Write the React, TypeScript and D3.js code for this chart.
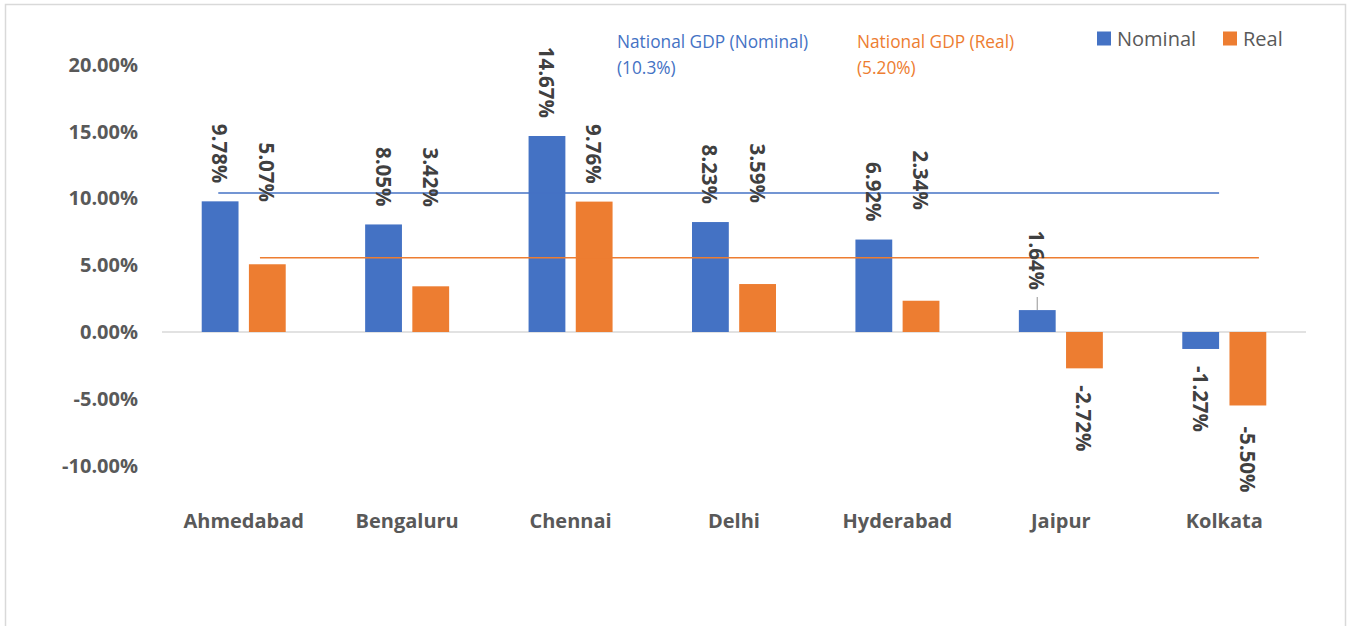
import React, { useEffect, useRef } from 'react';
import * as d3 from 'd3';

// city-level GDP growth vs national figures
const cities = ['Ahmedabad', 'Bengaluru', 'Chennai', 'Delhi', 'Hyderabad', 'Jaipur', 'Kolkata'];
const seriesNames = ['Nominal', 'Real'];
const nominal = [9.78, 8.05, 14.67, 8.23, 6.92, 1.64, -1.27];
const real = [5.07, 3.42, 9.76, 3.59, 2.34, -2.72, -5.5];
const yTicks = [-10, -5, 0, 5, 10, 15, 20];

// national reference lines (label text + level)
const nationalLabels = [
  ['National GDP (Nominal)', '(10.3%)'],
  ['National GDP (Real)', '(5.20%)'],
];
const nationalLevels = [10.4, 5.55];

// real-series labels that were dragged up in the original (value where label ends), null = default
const realLabelEnds = [9.73, 9.36, null, 9.66, 9.13, null, null];
const leaderCities = ['Jaipur'];

const W = 1351;
const H = 626;
const BLUE = '#4472C4';
const ORANGE = '#ED7D31';
const AXIS_TEXT = '#595959';
const LABEL_TEXT = '#404040';
const FONT = '"Open Sans", sans-serif';

const pct = (v: number) => v.toFixed(2) + '%';

const App = () => {
  const ref = useRef(null);

  useEffect(() => {
    const svg = d3.select(ref.current);
    svg.selectAll('*').remove();

    const colors = d3.scaleOrdinal<string, string>().domain(seriesNames).range([BLUE, ORANGE]);
    const values = [nominal, real];

    const x = d3.scaleBand().domain(cities).range([162, 1306]).paddingInner(0.486).paddingOuter(0.243);
    const x1 = d3.scaleBand().domain(seriesNames).range([0, x.bandwidth()]).paddingInner(0.22);
    const y = d3.scaleLinear().domain([-10, 20]).range([465.6, 64.8]);

    svg.append('rect')
      .attr('x', 5.5).attr('y', 4.5)
      .attr('width', 1340).attr('height', 700)
      .attr('fill', '#fff').attr('stroke', '#d9d9d9').attr('stroke-width', 1.5);

    // y axis labels
    svg.append('g')
      .selectAll('text')
      .data(yTicks)
      .enter()
      .append('text')
      .attr('x', 138)
      .attr('y', (d) => y(d))
      .attr('dy', '0.35em')
      .attr('text-anchor', 'end')
      .attr('font-family', FONT)
      .attr('font-weight', 700)
      .attr('font-size', 20)
      .attr('fill', AXIS_TEXT)
      .text((d) => pct(d));

    // zero line
    svg.append('line')
      .attr('x1', x.range()[0]).attr('x2', x.range()[1])
      .attr('y1', y(0)).attr('y2', y(0))
      .attr('stroke', '#d9d9d9').attr('stroke-width', 1.5);

    // bars
    seriesNames.forEach((s, si) => {
      svg.append('g')
        .selectAll('rect')
        .data(cities)
        .enter()
        .append('rect')
        .attr('x', (c) => x(c) + x1(s))
        .attr('width', x1.bandwidth())
        .attr('y', (c, i) => y(Math.max(0, values[si][i])))
        .attr('height', (c, i) => Math.abs(y(values[si][i]) - y(0)))
        .attr('fill', colors(s));
    });

    // national GDP lines
    const lineSpan = [
      [x(cities[0]) + x1('Nominal') + x1.bandwidth() * 0.45, x(cities[6]) + x1('Nominal') + x1.bandwidth()],
      [x(cities[0]) + x1('Real') + x1.bandwidth() * 0.3, x(cities[6]) + x1('Real') + x1.bandwidth() * 0.8],
    ];
    seriesNames.forEach((s, si) => {
      svg.append('line')
        .attr('x1', lineSpan[si][0]).attr('x2', lineSpan[si][1])
        .attr('y1', y(nationalLevels[si])).attr('y2', y(nationalLevels[si]))
        .attr('stroke', colors(s)).attr('stroke-width', 1.5);
    });

    // data labels, rotated
    seriesNames.forEach((s, si) => {
      cities.forEach((c, i) => {
        const v = values[si][i];
        const cx = x(c) + x1(s) + x1.bandwidth() / 2;
        const leader = si === 0 && leaderCities.includes(c);
        let yy;
        let anchor;
        if (v >= 0) {
          const manual = si === 1 ? realLabelEnds[i] : null;
          yy = manual != null ? y(manual) : y(v) - (leader ? 20 : 18);
          anchor = 'end';
        } else {
          yy = y(v) + (si === 1 && v < -5 ? 21 : 17);
          anchor = 'start';
        }
        svg.append('text')
          .attr('transform', `translate(${cx},${yy}) rotate(90)`)
          .attr('text-anchor', anchor)
          .attr('dominant-baseline', 'central')
          .attr('font-family', FONT)
          .attr('font-weight', 700)
          .attr('font-size', 20.5)
          .attr('fill', LABEL_TEXT)
          .text(pct(v));
        if (leader) {
          svg.append('line')
            .attr('x1', cx).attr('x2', cx)
            .attr('y1', y(v)).attr('y2', y(v) - 13)
            .attr('stroke', '#a6a6a6').attr('stroke-width', 1.2);
        }
      });
    });

    // category labels
    svg.append('g')
      .selectAll('text')
      .data(cities)
      .enter()
      .append('text')
      .attr('x', (c) => x(c) + x.bandwidth() / 2)
      .attr('y', 521)
      .attr('dy', '0.35em')
      .attr('text-anchor', 'middle')
      .attr('font-family', FONT)
      .attr('font-weight', 700)
      .attr('font-size', 20)
      .attr('fill', AXIS_TEXT)
      .text((c) => c);

    // national annotations
    const annX = [617, 857];
    nationalLabels.forEach((lines, si) => {
      lines.forEach((t, li) => {
        svg.append('text')
          .attr('x', annX[si])
          .attr('y', 41.5 + li * 26)
          .attr('dy', '0.35em')
          .attr('font-family', FONT)
          .attr('font-size', 17.3)
          .attr('fill', colors(seriesNames[si]))
          .text(t);
      });
    });

    // legend
    const legX = [1097, 1223];
    seriesNames.forEach((s, si) => {
      svg.append('rect')
        .attr('x', legX[si]).attr('y', 31.5)
        .attr('width', 14).attr('height', 14)
        .attr('fill', colors(s));
      svg.append('text')
        .attr('x', legX[si] + 20)
        .attr('y', 38.5)
        .attr('dy', '0.35em')
        .attr('font-family', FONT)
        .attr('font-size', 20)
        .attr('fill', AXIS_TEXT)
        .text(s);
    });
  // eslint-disable-next-line react-hooks/exhaustive-deps
  }, []);

  return (
    <svg
      ref={ref}
      width={W}
      height={H}
      style={{ position: 'absolute', left: 0, top: 0, display: 'block' }}
    ></svg>
  );
};

export default App;
